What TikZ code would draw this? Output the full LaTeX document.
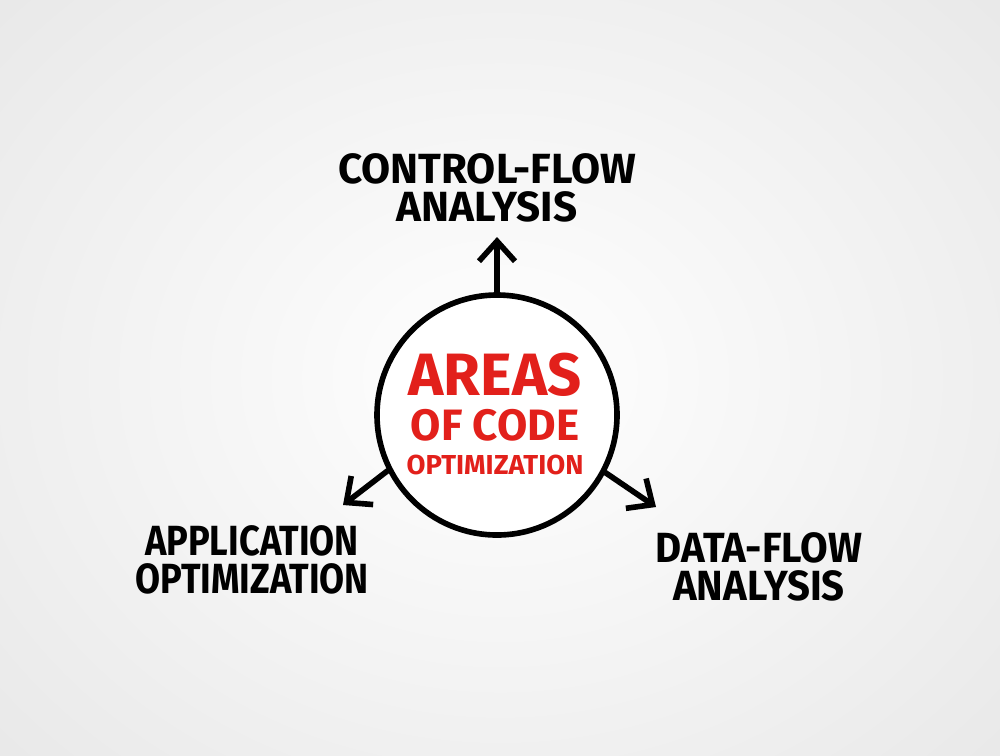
\documentclass[tikz,border=0pt]{standalone}
\usepackage{fontspec}
\setmainfont{Fira Sans}
\usetikzlibrary{calc, positioning}
\usetikzlibrary{arrows.meta}
\definecolor{areared}{HTML}{E2201B}
\def\lw{1.6pt}
\tikzset{
    hub/.style = {
        draw, circle, minimum size=2.4cm, line width=\lw, fill=white
    },
    topic/.style = {
        align=center, font=\fontsize{12}{10.7}\selectfont\bfseries
    },
    heading/.style = {
        text=areared, font=\fontsize{#1}{#1}\selectfont\bfseries, inner sep=0pt,
        text height=0.69em, text depth=0pt
    },
    link/.style = {
        line width=\lw, line cap=round, -{Straight Barb[length=2mm,width=3.6mm,line width=\lw]}
    }
    }
\begin{document}
\begin{tikzpicture}
        \useasboundingbox (0,0) rectangle (10,7.55);
        \shade[inner color=white, outer color=black!9] (-2,-2) rectangle (12,9.55);
        \node [hub] (hub) at (4.97,3.40) {};
        \node [heading=17] (areas) at (4.95,3.72) {AREAS};
        \node [heading=12.5] (code) at (4.95,3.27) {OF CODE};
        \node [heading=7.8] (optim) at (4.95,2.93) {OPTIMIZATION};
        \node [topic] (ctrl) at (4.87,5.67) {CONTROL-FLOW\\ANALYSIS};
        \node [topic, xscale=0.86, transform shape] (app) at (2.52,1.95) {APPLICATION\\OPTIMIZATION};
        \node [topic, xscale=0.95, transform shape] (data) at (7.59,1.88) {DATA-FLOW\\ANALYSIS};
        \coordinate (upTip) at (4.97,5.18);
        \coordinate (leftTip) at (3.43,2.50);
        \coordinate (rightTip) at (6.56,2.48);
        \draw[link] (hub.north) -- (upTip);
        \draw[link] (hub.207) -- (leftTip);
        \draw[link] (hub.-28) -- (rightTip);
    \end{tikzpicture}
\end{document}
